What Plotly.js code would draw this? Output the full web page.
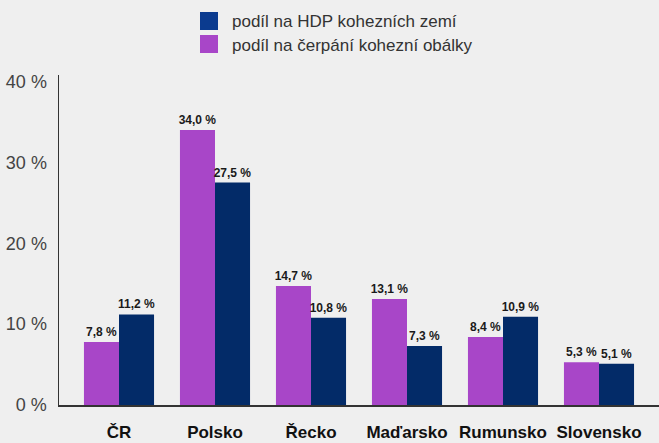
<!DOCTYPE html>
<html><head><meta charset="utf-8">
<script src="https://cdn.plot.ly/plotly-3.0.1.min.js"></script>
<style>html,body{margin:0;padding:0;background:#efefef;}#chart{width:659px;height:443px;}</style>
</head><body><div id="chart"></div>
<script>
const categories = ["ČR", "Polsko", "Řecko", "Maďarsko", "Rumunsko", "Slovensko"];
const cerpani = [7.8, 34.0, 14.7, 13.1, 8.4, 5.3];
const hdp = [11.2, 27.5, 10.8, 7.3, 10.9, 5.1];
const seriesNames = ["podíl na čerpání kohezní obálky", "podíl na HDP kohezních zemí"];
const yTicks = [0, 10, 20, 30, 40];

const fmt = v => v.toFixed(1).replace('.', ',') + ' %';
const purple = '#a846c8', navy = '#032b68', navyLegend = '#0b3b8f';
const labelFont = {family: 'Liberation Sans, Arial, sans-serif', size: 12, color: '#1a1a1a', weight: 'bold'};

const traces = [
  {type: 'bar', name: seriesNames[0], x: categories, y: cerpani, marker: {color: purple},
   text: cerpani.map(fmt), textposition: 'outside', textfont: labelFont, constraintext: 'none', cliponaxis: false, hoverinfo: 'none'},
  {type: 'bar', name: seriesNames[1], x: categories, y: hdp, marker: {color: navy},
   text: hdp.map(fmt), textposition: 'outside', textfont: labelFont, constraintext: 'none', cliponaxis: false, hoverinfo: 'none'}
];

const layout = {
  width: 659, height: 443,
  paper_bgcolor: '#efefef', plot_bgcolor: '#efefef',
  margin: {l: 59, r: 0, t: 75, b: 38},
  barmode: 'group', bargap: 0.27, bargroupgap: 0,
  showlegend: false,
  font: {family: 'Liberation Sans, Arial, sans-serif'},
  xaxis: {range: [-0.625, 5.625], showline: true, linecolor: '#333', linewidth: 1.5,
    ticks: 'outside', ticklen: 11, tickcolor: 'rgba(0,0,0,0)',
    tickfont: {size: 17, color: '#111', weight: 'bold'}, fixedrange: true},
  yaxis: {range: [0, 40.8], tickvals: yTicks, ticktext: yTicks.map(v => v + ' %'),
    showline: true, linecolor: '#333', linewidth: 1.5, showgrid: false, zeroline: false,
    ticks: 'outside', ticklen: 7, tickcolor: 'rgba(0,0,0,0)',
    tickfont: {size: 18, color: '#444'}},
  shapes: [
    {type: 'rect', xref: 'paper', yref: 'paper', x0: 141/600, x1: 159/600, y0: (405-30)/330, y1: (405-12)/330,
     fillcolor: navyLegend, line: {width: 0}},
    {type: 'rect', xref: 'paper', yref: 'paper', x0: 141/600, x1: 159/600, y0: (405-53)/330, y1: (405-35)/330,
     fillcolor: purple, line: {width: 0}}
  ],
  annotations: [
    {xref: 'paper', yref: 'paper', x: 171/600, y: (405-21)/330, xanchor: 'left', yanchor: 'middle',
     text: seriesNames[1], showarrow: false, font: {size: 17, color: '#333'}},
    {xref: 'paper', yref: 'paper', x: 171/600, y: (405-45)/330, xanchor: 'left', yanchor: 'middle',
     text: seriesNames[0], showarrow: false, font: {size: 17, color: '#333'}}
  ]
};
Plotly.newPlot('chart', traces, layout, {displayModeBar: false, staticPlot: true});
</script></body></html>
